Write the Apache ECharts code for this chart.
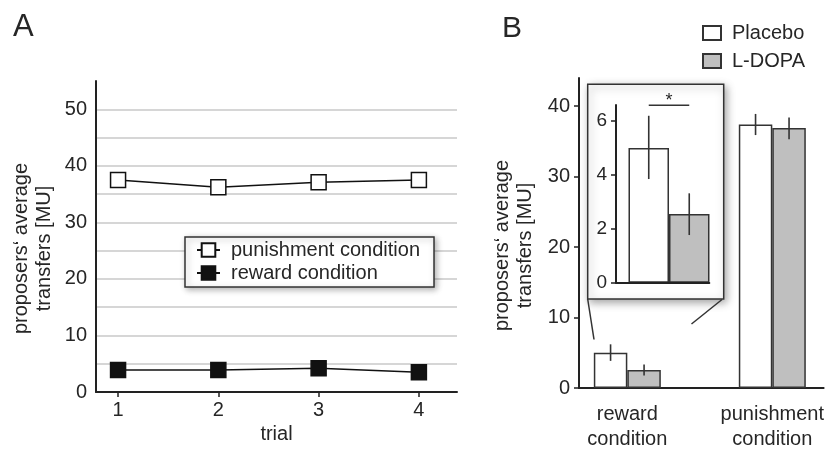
<!DOCTYPE html>
<html>
<head>
<meta charset="utf-8">
<style>
html,body{margin:0;padding:0;background:#fff;}
#chart{width:827px;height:452px;}
</style>
<script src="https://cdn.jsdelivr.net/npm/echarts@6/dist/echarts.min.js"></script>
</head>
<body>
<div id="chart"></div>
<script>
// ---- Panel A data ----
const trials = [1, 2, 3, 4];
const punishment = [37.5, 36.2, 37.1, 37.5];
const reward = [3.9, 3.9, 4.2, 3.5];
const aYTicks = [0, 10, 20, 30, 40, 50];

// ---- Panel B data ----
const conditions = ['reward\ncondition', 'punishment\ncondition'];
const placeboMean = [5.0, 37.4];
const placeboLow = [3.85, 35.9];
const placeboHigh = [6.2, 38.9];
const ldopaMean = [2.55, 36.9];
const ldopaLow = [1.77, 35.3];
const ldopaHigh = [3.32, 38.4];
const bYTicks = [0, 10, 20, 30, 40];
const insetYTicks = [0, 2, 4, 6];
const sigLevel = 6.59;

const FONT = 'Liberation Sans, Arial, Helvetica, sans-serif';
const TXT = '#262626';
const AX = '#222';

const chart = echarts.init(document.getElementById('chart'), null, {renderer: 'canvas'});

function errRender(offset) {
  return function (params, api) {
    const x = api.value(0);
    const p1 = api.coord([x, api.value(1)]);
    const p2 = api.coord([x, api.value(2)]);
    return {
      type: 'line',
      shape: {x1: p1[0] + offset, y1: p1[1], x2: p2[0] + offset, y2: p2[1]},
      style: {stroke: '#333', lineWidth: 1.6}
    };
  };
}

const option = {
  backgroundColor: '#fff',
  animation: false,
  textStyle: {fontFamily: FONT},
  grid: [
    {left: 96, top: 81, width: 361, bottom: 60},
    {left: 579, top: 78, right: 0, bottom: 59},
    {left: 616, top: 105, width: 93.3, bottom: 169.3}
  ],
  xAxis: [
    {
      gridIndex: 0, type: 'value', min: 0.78, max: 4.38,
      axisLine: {show: true, onZero: false, lineStyle: {color: AX, width: 2}},
      axisTick: {show: true, customValues: trials, length: 5, lineStyle: {color: AX, width: 1.5}},
      axisLabel: {customValues: trials, fontSize: 20, color: TXT, margin: 8, fontFamily: FONT},
      splitLine: {show: false},
      name: 'trial', nameLocation: 'middle', nameGap: 28,
      nameTextStyle: {fontSize: 20, color: TXT, fontFamily: FONT}
    },
    {
      gridIndex: 1, type: 'value', min: -0.3333, max: 1.354,
      axisLine: {show: true, onZero: false, lineStyle: {color: AX, width: 2}},
      axisTick: {show: false, customValues: [0, 1]},
      axisLabel: {
        customValues: [0, 1], fontSize: 20, color: TXT, margin: 14, lineHeight: 25, fontFamily: FONT,
        formatter: v => conditions[Math.round(v)] || ''
      },
      splitLine: {show: false}
    },
    {
      gridIndex: 2, type: 'value', min: -0.568, max: 0.432, z: 5,
      axisLine: {show: true, onZero: false, lineStyle: {color: AX, width: 2}},
      axisTick: {show: false}, axisLabel: {show: false}, splitLine: {show: false}
    }
  ],
  yAxis: [
    {
      gridIndex: 0, type: 'value', min: 0, max: 55, interval: 5,
      axisLine: {show: true, onZero: false, lineStyle: {color: AX, width: 2}},
      axisTick: {show: false},
      axisLabel: {customValues: aYTicks, fontSize: 20, color: TXT, margin: 9, fontFamily: FONT},
      splitLine: {show: true, showMinLine: false, showMaxLine: false, lineStyle: {color: '#c9c9c9', width: 1.5}},
      name: 'proposers‘ average\ntransfers [MU]', nameLocation: 'middle', nameRotate: 90, nameGap: 40,
      nameTextStyle: {fontSize: 20, color: TXT, lineHeight: 23, fontFamily: FONT, padding: [0, 24, 0, 0]}
    },
    {
      gridIndex: 1, type: 'value', min: 0, max: 44,
      axisLine: {show: true, onZero: false, lineStyle: {color: AX, width: 2}},
      axisTick: {show: true, customValues: bYTicks, length: 5, lineStyle: {color: AX, width: 1.5}},
      axisLabel: {customValues: bYTicks, fontSize: 20, color: TXT, margin: 9, fontFamily: FONT},
      splitLine: {show: false},
      name: 'proposers‘ average\ntransfers [MU]', nameLocation: 'middle', nameRotate: 90, nameGap: 42,
      nameTextStyle: {fontSize: 20, color: TXT, lineHeight: 23, fontFamily: FONT, padding: [0, 25, 0, 0]}
    },
    {
      gridIndex: 2, type: 'value', min: 0, max: 6.6, z: 5,
      axisLine: {show: true, onZero: false, lineStyle: {color: AX, width: 2}},
      axisTick: {show: true, customValues: insetYTicks, length: 5, lineStyle: {color: AX, width: 1.5}},
      axisLabel: {customValues: insetYTicks, fontSize: 19, color: TXT, margin: 9, fontFamily: FONT},
      splitLine: {show: false}
    }
  ],
  legend: [
    {
      data: ['punishment condition', 'reward condition'],
      orient: 'vertical', left: 185, top: 237, selectedMode: false,
      itemWidth: 23, itemHeight: 17, itemGap: 3,
      padding: [3, 14, 4, 11],
      backgroundColor: '#fff', borderColor: '#333', borderWidth: 1.5,
      shadowBlur: 6, shadowColor: 'rgba(0,0,0,0.3)', shadowOffsetX: 2, shadowOffsetY: 2,
      textStyle: {fontSize: 20, color: TXT, fontFamily: FONT, lineHeight: 20, padding: [0, 0, 0, 6]}
    },
    {
      data: ['Placebo', 'L-DOPA'],
      orient: 'vertical', left: 697, top: 18, selectedMode: false,
      icon: 'rect', itemWidth: 18, itemHeight: 14, itemGap: 8,
      textStyle: {fontSize: 20, color: TXT, fontFamily: FONT, lineHeight: 20, padding: [0, 0, 0, 6]}
    }
  ],
  graphic: [
    {type: 'text', left: 13, top: 12, style: {text: 'A', fontSize: 31, fill: TXT, fontFamily: FONT}},
    {type: 'text', left: 502, top: 14, style: {text: 'B', fontSize: 30, fill: TXT, fontFamily: FONT}},
    {
      type: 'rect', z: 1,
      shape: {x: 587.7, y: 84.3, width: 136, height: 214.7},
      style: {fill: '#fff', stroke: '#333', lineWidth: 1.5, shadowBlur: 8, shadowColor: 'rgba(0,0,0,0.35)', shadowOffsetX: 2, shadowOffsetY: 3}
    },
    {type: 'line', z: 1, shape: {x1: 587.7, y1: 299, x2: 594, y2: 339.5}, style: {stroke: '#333', lineWidth: 1.5}},
    {type: 'line', z: 1, shape: {x1: 722, y1: 299.5, x2: 691.5, y2: 324}, style: {stroke: '#333', lineWidth: 1.5}}
  ],
  series: [
    {
      name: 'punishment condition', type: 'line', xAxisIndex: 0, yAxisIndex: 0,
      data: trials.map((t, i) => [t, punishment[i]]),
      symbol: 'rect', symbolSize: 15,
      lineStyle: {color: '#111', width: 1.5},
      itemStyle: {color: '#fff', borderColor: '#111', borderWidth: 1.5}
    },
    {
      name: 'reward condition', type: 'line', xAxisIndex: 0, yAxisIndex: 0,
      data: trials.map((t, i) => [t, reward[i]]),
      symbol: 'rect', symbolSize: 15,
      lineStyle: {color: '#111', width: 1.5},
      itemStyle: {color: '#111', borderColor: '#111', borderWidth: 1.5}
    },
    {
      name: 'Placebo', type: 'bar', xAxisIndex: 1, yAxisIndex: 1,
      data: placeboMean.map((v, i) => [i, v]),
      barWidth: 33.5, barGap: '0%',
      itemStyle: {color: '#fff', borderColor: '#333', borderWidth: 1.5}
    },
    {
      name: 'L-DOPA', type: 'bar', xAxisIndex: 1, yAxisIndex: 1,
      data: ldopaMean.map((v, i) => [i, v]),
      barWidth: 33.5, barGap: '0%',
      itemStyle: {color: '#bfbfbf', borderColor: '#333', borderWidth: 1.5}
    },
    {
      type: 'custom', xAxisIndex: 1, yAxisIndex: 1, z: 3,
      data: placeboMean.map((v, i) => [i, placeboLow[i], placeboHigh[i]]),
      encode: {x: 0, y: [1, 2]}, renderItem: errRender(-16.75)
    },
    {
      type: 'custom', xAxisIndex: 1, yAxisIndex: 1, z: 3,
      data: ldopaMean.map((v, i) => [i, ldopaLow[i], ldopaHigh[i]]),
      encode: {x: 0, y: [1, 2]}, renderItem: errRender(16.75)
    },
    // inset: reward condition only
    {
      name: 'Placebo', type: 'bar', xAxisIndex: 2, yAxisIndex: 2, z: 4,
      data: [[0, placeboMean[0]]],
      barWidth: 40.5, barGap: '0%',
      itemStyle: {color: '#fff', borderColor: '#333', borderWidth: 1.5}
    },
    {
      name: 'L-DOPA', type: 'bar', xAxisIndex: 2, yAxisIndex: 2, z: 4,
      data: [[0, ldopaMean[0]]],
      barWidth: 40.5, barGap: '0%',
      itemStyle: {color: '#bfbfbf', borderColor: '#333', borderWidth: 1.5}
    },
    {
      type: 'custom', xAxisIndex: 2, yAxisIndex: 2, z: 5,
      data: [[0, placeboLow[0], placeboHigh[0]]],
      encode: {x: 0, y: [1, 2]}, renderItem: errRender(-20.25)
    },
    {
      type: 'custom', xAxisIndex: 2, yAxisIndex: 2, z: 5,
      data: [[0, ldopaLow[0], ldopaHigh[0]]],
      encode: {x: 0, y: [1, 2]}, renderItem: errRender(20.25)
    },
    {
      type: 'custom', xAxisIndex: 2, yAxisIndex: 2, z: 5, clip: false,
      data: [[0, sigLevel]],
      encode: {x: 0, y: 1},
      renderItem: function (params, api) {
        const p = api.coord([api.value(0), api.value(1)]);
        return {
          type: 'group',
          children: [
            {type: 'line', shape: {x1: p[0] - 20.25, y1: p[1], x2: p[0] + 20.25, y2: p[1]}, style: {stroke: '#333', lineWidth: 1.6}},
            {type: 'text', style: {text: '*', x: p[0], y: p[1] - 4, fontSize: 18, fill: TXT, fontFamily: FONT, align: 'center', verticalAlign: 'middle'}}
          ]
        };
      }
    }
  ]
};

chart.setOption(option);
</script>
</body>
</html>
